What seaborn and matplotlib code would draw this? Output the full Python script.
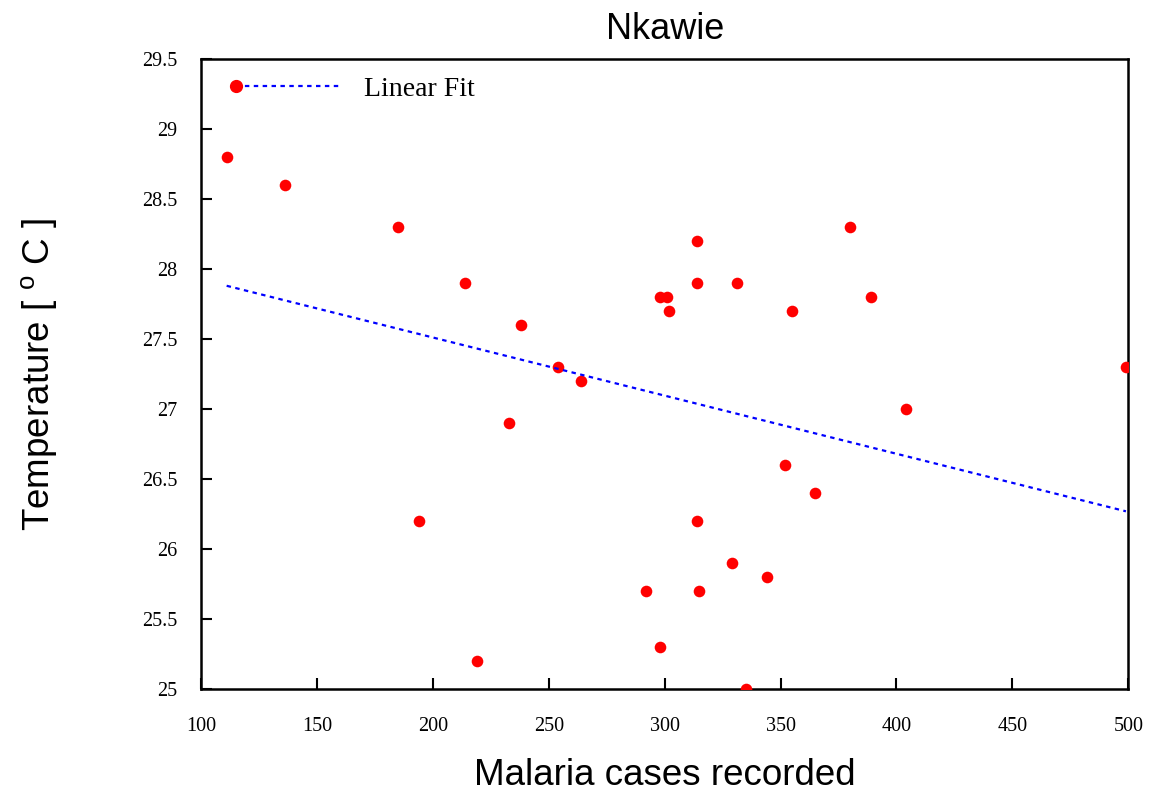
import numpy as np
import pandas as pd
import matplotlib
matplotlib.use("Agg")
import matplotlib.pyplot as plt
from matplotlib.lines import Line2D
from matplotlib.legend_handler import HandlerLine2D
import seaborn as sns

# malaria cases vs mean temperature, Nkawie
cases = [111, 136, 185, 214, 238, 254, 264, 233, 194, 219,
         314, 314, 331, 298, 301, 302, 355, 380, 389, 404,
         499, 352, 365, 314, 292, 315, 329, 344, 298, 335]
temperature = [28.8, 28.6, 28.3, 27.9, 27.6, 27.3, 27.2, 26.9, 26.2, 25.2,
               28.2, 27.9, 27.9, 27.8, 27.8, 27.7, 27.7, 28.3, 27.8, 27.0,
               27.3, 26.6, 26.4, 26.2, 25.7, 25.7, 25.9, 25.8, 25.3, 25.0]
# linear fit as drawn in the original figure
fit_intercept = 28.34
fit_slope = -0.00415

x_ticks = [100, 150, 200, 250, 300, 350, 400, 450, 500]
y_ticks = [25, 25.5, 26, 26.5, 27, 27.5, 28, 28.5, 29, 29.5]
y_ticklabels = ['25', '25.5', '26', '26.5', '27', '27.5', '28', '28.5', '29', '29.5']

df = pd.DataFrame({'cases': cases, 'temp': temperature})
fit_x = np.array([min(cases), max(cases)])
fit_df = pd.DataFrame({'cases': fit_x, 'temp': fit_intercept + fit_slope * fit_x})


class DotAtStart(HandlerLine2D):
    # marker at the left end of the legend line instead of the middle
    def create_artists(self, *args, **kwargs):
        artists = super().create_artists(*args, **kwargs)
        for a in artists:
            a.set_markevery([0])
        return artists


sns.set_style('white')
plt.rcParams['font.family'] = ['Liberation Sans', 'DejaVu Sans']
plt.rcParams['mathtext.fontset'] = 'custom'
plt.rcParams['mathtext.rm'] = 'Liberation Sans'
plt.rcParams['mathtext.it'] = 'Liberation Sans'
plt.rcParams['text.color'] = 'black'
plt.rcParams['axes.labelcolor'] = 'black'

fig = plt.figure(figsize=(11.56, 8.05), dpi=100)
ax = fig.add_axes([0.174, 0.144, 0.802, 0.783])

fit_style = dict(color='blue', linestyle=(0, (2, 2)), linewidth=1.6)
sns.scatterplot(data=df, x='cases', y='temp', ax=ax, color='red', s=70,
                linewidth=0, zorder=3)
sns.lineplot(data=fit_df, x='cases', y='temp', ax=ax, zorder=4, **fit_style)

ax.set_xlim(100, 500)
ax.set_ylim(25, 29.5)
ax.set_xticks(x_ticks)
ax.set_xticklabels([str(t) for t in x_ticks], family='Liberation Serif', fontsize=14.5)
ax.set_yticks(y_ticks)
ax.set_yticklabels(y_ticklabels, family='Liberation Serif', fontsize=14.5)
ax.tick_params(axis='x', direction='in', length=8, width=1.5, pad=20,
               bottom=True, top=False, colors='black')
ax.tick_params(axis='y', direction='in', length=8, width=1.5, pad=17,
               left=True, right=False, colors='black')
for sp in ax.spines.values():
    sp.set_color('black')
    sp.set_linewidth(1.8)

ax.set_xlabel('Malaria cases recorded', fontsize=26.5, labelpad=16)
ax.set_ylabel(r'Temperature [ $^{\mathrm{o}}$ C ]', fontsize=26.5, labelpad=60)
ax.set_title('Nkawie', fontsize=26, pad=14)

proxy = Line2D([], [], marker='o', markersize=8.5, markerfacecolor='red',
               markeredgecolor='red', **fit_style)
leg = ax.legend([proxy], ['Linear Fit'], handler_map={proxy: DotAtStart()},
                loc='upper left', bbox_to_anchor=(0.011, 1.012), frameon=False,
                prop={'family': 'Liberation Serif', 'size': 20},
                handlelength=3.7, handletextpad=0.9, numpoints=1)

fig.savefig('out.png', dpi=100)
